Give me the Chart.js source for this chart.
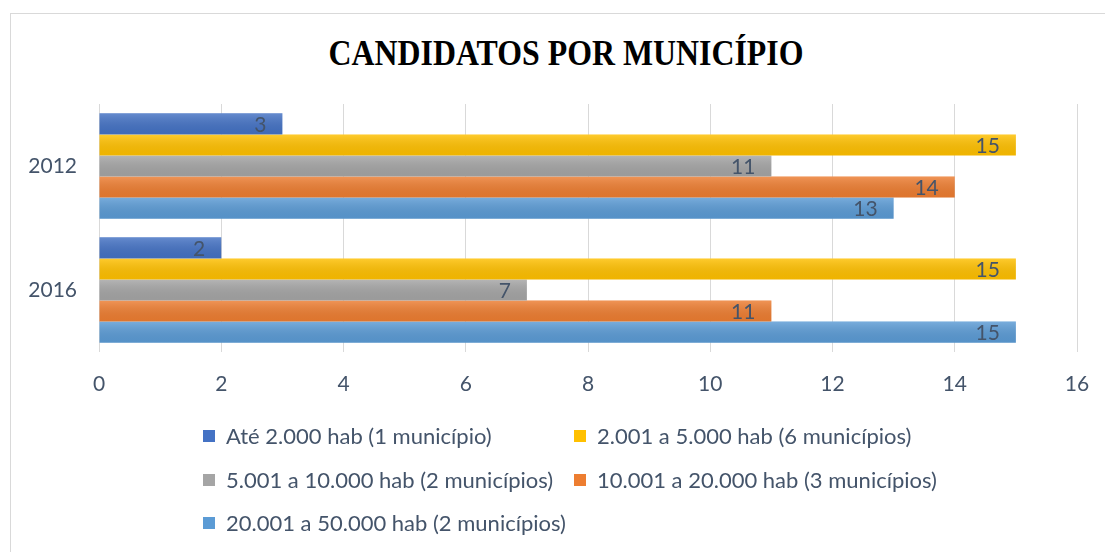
<!DOCTYPE html>
<html>
  <head>
    <title>Candidatos por Município</title>
    <script src="https://cdn.jsdelivr.net/npm/chart.js"></script>
    <style>
      body { margin: 0; background: #fff; overflow: hidden; }
      #wrap { position: relative; width: 1105px; height: 552px; overflow: hidden; }
      #frame { position: absolute; left: 10px; top: 13px; width: 1120px; height: 560px; border: 1px solid #d9d9d9; box-sizing: border-box; }
      #title { position: absolute; left: 0; top: 34px; width: 1132px; text-align: center; font-family: "Liberation Serif", serif; font-weight: bold; font-size: 35px; color: #000; transform: scaleX(0.91); transform-origin: 566px 0; }
      #legend { position: absolute; left: 0; top: 0; font-family: Lato, sans-serif; font-size: 22px; color: #44546A; }
      .item { position: absolute; white-space: nowrap; line-height: 22px; }
      .box { position: absolute; left: 0; top: 5px; width: 12px; height: 12px; }
      .txt { position: absolute; left: 23px; top: 0; }
      canvas { position: absolute; left: 0; top: 0; }
    </style>
  </head>
  <body>
    <div id="wrap">
      <div id="frame"></div>
      <div id="title">CANDIDATOS POR MUNICÍPIO</div>
      <canvas id="bar-chart" width="1105" height="552"></canvas>
      <div id="legend"></div>
    </div>
    <script>
      // Chart data
      const years = ["2012", "2016"];
      const seriesNames = [
        "Até 2.000 hab (1 município)",
        "2.001 a 5.000 hab (6 municípios)",
        "5.001 a 10.000 hab (2 municípios)",
        "10.001 a 20.000 hab (3 municípios)",
        "20.001 a 50.000 hab (2 municípios)"
      ];
      const ate2000 = [3, 2];
      const de2001a5000 = [15, 15];
      const de5001a10000 = [11, 7];
      const de10001a20000 = [14, 11];
      const de20001a50000 = [13, 15];
      const xTicks = [0, 2, 4, 6, 8, 10, 12, 14, 16];

      const colors = ["#4472C4", "#FFC000", "#A5A5A5", "#ED7D31", "#5B9BD5"];
      const values = [ate2000, de2001a5000, de5001a10000, de10001a20000, de20001a50000];
      const textColor = "#44546A";

      // Shading and value labels drawn on top of the bars
      const barLabels = {
        id: "barLabels",
        afterDatasetsDraw(chart) {
          const ctx = chart.ctx;
          ctx.save();
          chart.data.datasets.forEach((ds, i) => {
            const meta = chart.getDatasetMeta(i);
            meta.data.forEach((bar, j) => {
              const top = bar.y - bar.height / 2;
              const left = Math.min(bar.x, bar.base);
              const w = Math.abs(bar.x - bar.base);
              const g = ctx.createLinearGradient(0, top, 0, top + bar.height);
              g.addColorStop(0, "rgba(255,255,255,0.18)");
              g.addColorStop(1, "rgba(0,0,0,0.06)");
              ctx.fillStyle = g;
              ctx.fillRect(left, top, w, bar.height);

              ctx.fillStyle = textColor;
              ctx.font = "21px Lato, sans-serif";
              ctx.textAlign = "right";
              ctx.textBaseline = "middle";
              ctx.fillText(ds.data[j], bar.x - 16, bar.y + 1);
            });
          });
          ctx.restore();
        }
      };

      const ctx = document.getElementById("bar-chart").getContext("2d");
      const chart = new Chart(ctx, {
        type: "bar",
        data: {
          labels: years,
          datasets: seriesNames.map((name, i) => ({
            label: name,
            data: values[i],
            backgroundColor: colors[i],
            borderWidth: 0,
            categoryPercentage: 0.85,
            barPercentage: 1
          }))
        },
        options: {
          indexAxis: "y",
          responsive: false,
          animation: false,
          layout: { padding: { top: 104, right: 28, left: 0, bottom: 0 } },
          plugins: {
            legend: { display: false },
            title: { display: false },
            tooltip: { enabled: false }
          },
          scales: {
            x: {
              min: 0,
              max: 16,
              afterBuildTicks: (scale) => { scale.ticks = xTicks.map(v => ({ value: v })); },
              afterFit: (scale) => {
                scale.height = 200;
                scale.paddingLeft = 0;
                scale.paddingRight = 0;
              },
              grid: { color: "#d9d9d9", drawTicks: false },
              border: { display: false },
              ticks: { color: textColor, font: { family: "Lato", size: 21 }, padding: 20 }
            },
            y: {
              afterFit: (scale) => { scale.width = 99; },
              grid: { display: false, drawTicks: false },
              border: { display: false },
              ticks: { color: textColor, font: { family: "Lato", size: 21 }, padding: 22 }
            }
          }
        },
        plugins: [barLabels]
      });

      // Legend in two columns, as in the original
      const legend = document.getElementById("legend");
      const colX = [203, 574];
      const rowY = [425, 469, 512];
      chart.data.datasets.forEach((ds, i) => {
        const item = document.createElement("div");
        item.className = "item";
        item.style.left = colX[i % 2] + "px";
        item.style.top = rowY[Math.floor(i / 2)] + "px";
        item.innerHTML = '<span class="box" style="background:' + ds.backgroundColor + '"></span><span class="txt"></span>';
        item.querySelector(".txt").textContent = ds.label;
        legend.appendChild(item);
      });
    </script>
  </body>
</html>
